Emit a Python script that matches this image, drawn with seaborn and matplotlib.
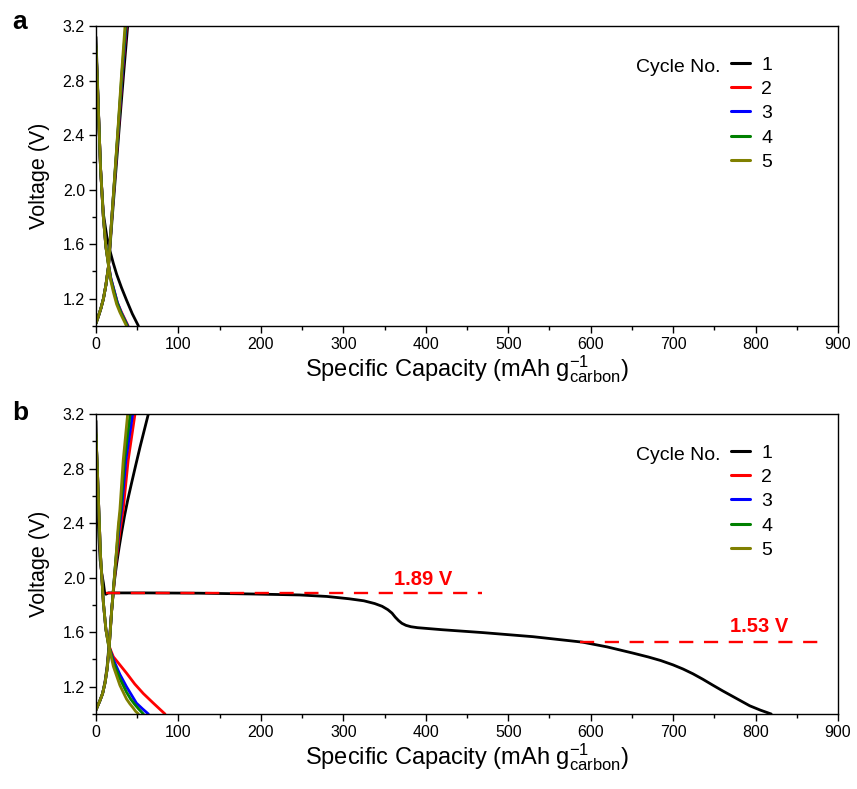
import numpy as np
import pandas as pd
import matplotlib
matplotlib.use("Agg")
import matplotlib.pyplot as plt
from matplotlib.lines import Line2D
from matplotlib.ticker import MultipleLocator, FormatStrFormatter
import seaborn as sns

# ---------------- data ----------------
cycles = ['1', '2', '3', '4', '5']
colors = ['#000000', '#FF0000', '#0000FF', '#008000', '#808000']

# panel a : discharge (voltage falling)
a_dis_cap_1 = [0, 1.5, 3, 5.5, 9, 13, 17, 21, 25, 31, 37, 44, 51.5]
a_dis_v_1 = [3.12, 2.85, 2.58, 2.15, 1.82, 1.66, 1.55, 1.46, 1.38, 1.28, 1.19, 1.09, 1.0]
a_dis_cap_2 = [0, 1.5, 2.8, 5.5, 8.9, 12, 15, 18, 22, 26, 31, 35, 39]
a_dis_v_2 = [3.04, 2.81, 2.60, 2.16, 1.80, 1.58, 1.46, 1.35, 1.26, 1.17, 1.10, 1.05, 1.0]
a_dis_cap_3 = [0, 1.5, 2.8, 5.5, 8.9, 12, 15, 18, 22, 26, 30.5, 34.5, 38.5]
a_dis_v_3 = [3.05, 2.81, 2.60, 2.16, 1.80, 1.58, 1.46, 1.35, 1.26, 1.17, 1.10, 1.05, 1.0]
a_dis_cap_4 = [0, 1.5, 2.8, 5.5, 8.9, 12, 15, 18, 21.5, 25.5, 30, 34, 38]
a_dis_v_4 = [3.05, 2.82, 2.60, 2.16, 1.80, 1.58, 1.45, 1.34, 1.26, 1.17, 1.10, 1.05, 1.0]
a_dis_cap_5 = [0, 1.5, 2.8, 5.5, 8.9, 12, 15, 18, 21, 25, 29, 33, 37]
a_dis_v_5 = [3.06, 2.82, 2.60, 2.16, 1.80, 1.58, 1.45, 1.33, 1.25, 1.16, 1.10, 1.05, 1.0]

# panel a : charge (voltage rising)
a_chg_cap_1 = [0, 3, 6, 9, 12, 15, 17.5, 19.5, 24, 28.5, 33.5, 38.4]
a_chg_v_1 = [1.02, 1.07, 1.13, 1.20, 1.30, 1.43, 1.62, 1.78, 2.13, 2.48, 2.85, 3.2]
a_chg_cap_2 = [0, 2.8, 6, 9, 12, 15, 17, 19, 23.3, 27.6, 32, 37]
a_chg_v_2 = [1.02, 1.07, 1.13, 1.20, 1.30, 1.43, 1.60, 1.78, 2.13, 2.48, 2.85, 3.2]
a_chg_cap_3 = [0, 2.8, 6, 9, 12, 15, 17, 19, 23.2, 27.4, 31.8, 36.5]
a_chg_v_3 = [1.02, 1.07, 1.13, 1.20, 1.30, 1.43, 1.60, 1.78, 2.13, 2.48, 2.85, 3.2]
a_chg_cap_4 = [0, 2.8, 6, 9, 12, 15, 17, 19, 23.1, 27.2, 31.4, 36]
a_chg_v_4 = [1.02, 1.07, 1.13, 1.20, 1.30, 1.43, 1.60, 1.78, 2.13, 2.48, 2.85, 3.2]
a_chg_cap_5 = [0, 2.8, 6, 9, 12, 15, 17, 19, 23, 27, 31, 35.2]
a_chg_v_5 = [1.02, 1.07, 1.13, 1.20, 1.30, 1.43, 1.60, 1.78, 2.13, 2.48, 2.85, 3.2]

# panel b : discharge
b_dis_cap_1 = [0, 1, 2, 3.5, 5, 7, 9, 10.5, 12, 15, 60, 125, 190, 247, 280, 307,
               325, 338, 347, 354, 359, 363, 367, 371, 376, 382, 390, 420, 469,
               530, 590, 620, 651, 670, 685, 700, 712, 724, 736, 748, 760, 775,
               793, 806, 819]
b_dis_v_1 = [3.15, 2.85, 2.55, 2.30, 2.13, 2.03, 1.96, 1.89, 1.878, 1.888, 1.888,
             1.886, 1.88, 1.873, 1.862, 1.845, 1.83, 1.81, 1.79, 1.765, 1.74,
             1.71, 1.685, 1.665, 1.65, 1.64, 1.633, 1.618, 1.597, 1.567, 1.527,
             1.492, 1.447, 1.418, 1.392, 1.36, 1.33, 1.295, 1.255, 1.212, 1.17,
             1.12, 1.06, 1.028, 1.0]
b_dis_cap_2 = [0, 1.5, 2.8, 5.5, 8.9, 12, 15, 17, 21, 29, 37, 47, 57.4, 69.5, 83.7]
b_dis_v_2 = [3.03, 2.82, 2.60, 2.16, 1.82, 1.62, 1.52, 1.48, 1.42, 1.36, 1.30,
             1.22, 1.15, 1.08, 1.0]
b_dis_cap_3 = [0, 1.5, 2.8, 5.5, 8.9, 12, 15, 17, 21, 29, 37, 43, 49, 56, 63.5]
b_dis_v_3 = [3.04, 2.82, 2.60, 2.16, 1.82, 1.62, 1.52, 1.47, 1.40, 1.29, 1.20,
             1.14, 1.08, 1.04, 1.0]
b_dis_cap_4 = [0, 1.5, 2.8, 5.5, 8.9, 12, 15, 17, 21, 29, 37, 42, 47, 52, 57.5]
b_dis_v_4 = [3.05, 2.82, 2.60, 2.16, 1.82, 1.62, 1.51, 1.47, 1.38, 1.26, 1.16,
             1.11, 1.07, 1.035, 1.0]
b_dis_cap_5 = [0, 1.5, 2.8, 5.5, 8.9, 12, 15, 17, 21, 29, 37, 41, 45, 48, 51.5]
b_dis_v_5 = [3.06, 2.82, 2.60, 2.16, 1.82, 1.62, 1.51, 1.46, 1.35, 1.21, 1.11,
             1.075, 1.045, 1.02, 1.0]

# panel b : charge
b_chg_cap_1 = [0, 4.9, 8, 11, 13.5, 16, 19, 22, 25, 28, 31, 34.5, 38.5, 43, 48, 53.5, 58.5, 63.5]
b_chg_v_1 = [1.03, 1.10, 1.15, 1.24, 1.35, 1.52, 1.76, 1.96, 2.10, 2.22, 2.33,
             2.45, 2.57, 2.69, 2.82, 2.96, 3.08, 3.2]
b_chg_cap_2 = [0, 4.9, 8, 11, 13.5, 16, 19, 24, 29, 33, 39, 47.3]
b_chg_v_2 = [1.03, 1.10, 1.15, 1.23, 1.33, 1.49, 1.76, 2.10, 2.34, 2.50, 2.86, 3.2]
b_chg_cap_3 = [0, 4.9, 8, 11, 13.5, 16, 19, 24, 28, 31, 36.2, 44.5]
b_chg_v_3 = [1.03, 1.10, 1.15, 1.23, 1.33, 1.49, 1.76, 2.12, 2.36, 2.50, 2.86, 3.2]
b_chg_cap_4 = [0, 4.9, 8, 11, 13.5, 16, 19, 24, 27.5, 30, 34.5, 41.5]
b_chg_v_4 = [1.03, 1.10, 1.15, 1.23, 1.33, 1.49, 1.76, 2.13, 2.38, 2.50, 2.86, 3.2]
b_chg_cap_5 = [0, 4.9, 8, 11, 13.5, 16, 19, 24, 27, 29, 33, 38.4]
b_chg_v_5 = [1.03, 1.10, 1.15, 1.23, 1.33, 1.49, 1.76, 2.13, 2.38, 2.50, 2.86, 3.2]

# plateau reference lines (panel b)
ref1_cap = [12, 468]
ref1_v = [1.89, 1.89]
ref1_label = '1.89 V'
ref2_cap = [587, 878]
ref2_v = [1.53, 1.53]
ref2_label = '1.53 V'

x_label = r'Specific Capacity (mAh g$^{\mathregular{-1}}_{\mathregular{carbon}}$)'
y_label = 'Voltage (V)'
legend_title = 'Cycle No.'

# ---------------- build tables ----------------
def build(prefix):
    frames = []
    g = globals()
    for c in cycles:
        for branch in ('dis', 'chg'):
            cap = g[f'{prefix}_{branch}_cap_{c}']
            v = g[f'{prefix}_{branch}_v_{c}']
            frames.append(pd.DataFrame({'cap': cap, 'volt': v,
                                        'cycle': c, 'branch': branch}))
    return pd.concat(frames, ignore_index=True)

df_a = build('a')
df_b = build('b')

# ---------------- style ----------------
sns.set_theme(style='ticks')
plt.rcParams['font.family'] = ['Liberation Sans', 'DejaVu Sans']
plt.rcParams['mathtext.fontset'] = 'custom'
plt.rcParams['mathtext.rm'] = 'Liberation Sans'
plt.rcParams['mathtext.it'] = 'Liberation Sans:italic'
plt.rcParams['axes.linewidth'] = 1.0
for key in ('text.color', 'axes.labelcolor', 'xtick.color', 'ytick.color',
            'axes.edgecolor', 'xtick.labelcolor', 'ytick.labelcolor'):
    plt.rcParams[key] = 'black'

W, H = 857, 789
fig = plt.figure(figsize=(W / 100, H / 100), dpi=100)
ax_a = fig.add_axes([96 / W, 1 - 326 / H, 742 / W, 300 / H])
ax_b = fig.add_axes([96 / W, 1 - 714 / H, 742 / W, 300 / H])

palette = dict(zip(cycles, colors))

for ax, df in ((ax_a, df_a), (ax_b, df_b)):
    sns.lineplot(data=df, x='cap', y='volt', hue='cycle', units='branch',
                 estimator=None, sort=False, palette=palette,
                 linewidth=2.0, legend=False, ax=ax)
    ax.set_xlim(0, 900)
    ax.set_ylim(1.0, 3.2)
    ax.xaxis.set_major_locator(MultipleLocator(100))
    ax.xaxis.set_minor_locator(MultipleLocator(50))
    ax.yaxis.set_major_locator(MultipleLocator(0.4))
    ax.yaxis.set_minor_locator(MultipleLocator(0.2))
    ax.yaxis.set_major_formatter(FormatStrFormatter('%.1f'))
    ax.xaxis.set_major_formatter(FormatStrFormatter('%d'))
    ax.tick_params(axis='both', which='major', direction='out', length=5,
                   width=1.0, labelsize=11.5, color='black', pad=3)
    ax.tick_params(axis='both', which='minor', direction='out', length=3,
                   width=1.0, color='black')
    for sp in ax.spines.values():
        sp.set_visible(True)
        sp.set_color('black')
    ax.set_xlabel(x_label, fontsize=17, labelpad=1)
    ax.set_ylabel(y_label, fontsize=15.5, labelpad=9)

    handles = [Line2D([], [], color=c, lw=2.2) for c in colors]
    ax.legend(handles, cycles, loc='upper left', bbox_to_anchor=(0.856, 0.900),
              frameon=False, handlelength=0.95, handletextpad=0.6,
              labelspacing=0.345, fontsize=14, borderpad=0, borderaxespad=0)
    ax.text(0.841, 0.862, legend_title, transform=ax.transAxes, ha='right',
            va='center', fontsize=14)

# reference lines
sns.lineplot(x=ref1_cap, y=ref1_v, color='#FF0000', linewidth=1.7,
             linestyle=(0, (6, 4.5)), ax=ax_b)
sns.lineplot(x=ref2_cap, y=ref2_v, color='#FF0000', linewidth=1.7,
             linestyle=(0, (6, 4.5)), ax=ax_b)
ax_b.text(397, 1.983, ref1_label, color='#FF0000', fontweight='bold',
          fontsize=14.5, ha='center', va='center')
ax_b.text(804, 1.64, ref2_label, color='#FF0000', fontweight='bold',
          fontsize=14.5, ha='center', va='center')
ax_b.set_xlabel(x_label, fontsize=17, labelpad=1)
ax_b.set_ylabel(y_label, fontsize=15.5, labelpad=9)

fig.text(20 / W, 1 - 22 / H, 'a', fontsize=19, fontweight='bold',
         ha='center', va='center')
fig.text(20 / W, 1 - 413 / H, 'b', fontsize=19, fontweight='bold',
         ha='center', va='center')

fig.savefig('out.png', dpi=100, facecolor='white')
